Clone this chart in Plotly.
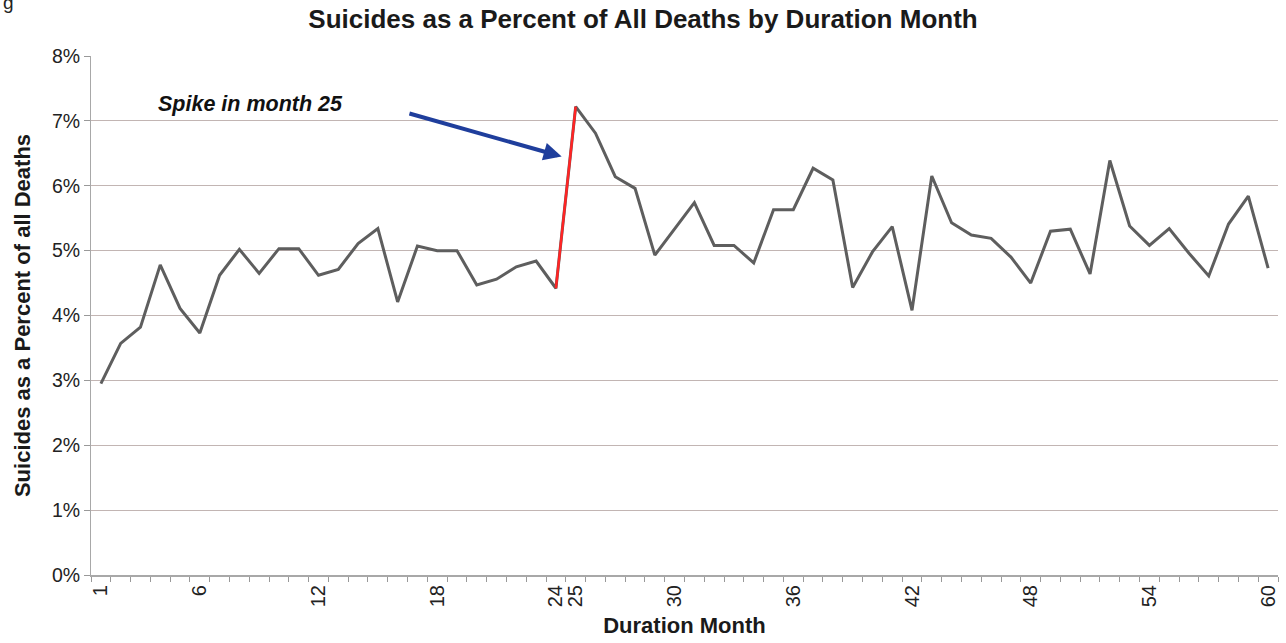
import plotly.graph_objects as go

months = list(range(1, 61))
pct = [2.95, 3.57, 3.82, 4.78, 4.11, 3.73, 4.62, 5.02, 4.65, 5.03,
       5.03, 4.62, 4.71, 5.11, 5.34, 4.21, 5.07, 5.00, 5.00, 4.47,
       4.56, 4.75, 4.84, 4.42, 7.22, 6.81, 6.14, 5.96, 4.93, 5.34,
       5.74, 5.08, 5.08, 4.81, 5.63, 5.63, 6.27, 6.09, 4.43, 4.98,
       5.37, 4.08, 6.15, 5.43, 5.24, 5.19, 4.90, 4.50, 5.30, 5.33,
       4.64, 6.39, 5.38, 5.08, 5.34, 4.96, 4.61, 5.41, 5.84, 4.73]
tick_months = [1, 6, 12, 18, 24, 25, 30, 36, 42, 48, 54, 60]
y_ticks = [0, 1, 2, 3, 4, 5, 6, 7, 8]

spike_x = [24, 25]
spike_y = [pct[23], pct[24]]

FONT = "Liberation Sans, Arial, sans-serif"
grid_c = "#c2b5b3"

fig = go.Figure()
fig.add_trace(go.Scatter(x=months, y=pct, mode="lines",
                         line=dict(color="#5e5e5e", width=3), showlegend=False))
fig.add_trace(go.Scatter(x=spike_x, y=spike_y, mode="lines",
                         line=dict(color="#ff2424", width=2.5), showlegend=False))

fig.update_layout(
    width=1286, height=643,
    margin=dict(l=91, r=8, t=56, b=68),
    paper_bgcolor="white", plot_bgcolor="white",
    font=dict(family=FONT, color="#222222"),
    title=dict(text="<b>Suicides as a Percent of All Deaths by Duration Month</b>",
               x=0.5, xref="container", xanchor="center",
               y=0.971, yref="container", yanchor="middle",
               font=dict(size=26, color="#1a1a1a", family=FONT)),
    xaxis=dict(range=[0.5, 60.5], tickvals=tick_months,
               ticktext=[str(t) for t in tick_months],
               tickangle=-90, tickfont=dict(size=20, color="#222"),
               ticks="", showgrid=False, zeroline=False,
               showline=True, linecolor="#a8a8a8", linewidth=2,
               minor=dict(tick0=0.5, dtick=1, ticks="outside", ticklen=5,
                          tickcolor="#999999", showgrid=False),
               title=dict(text="<b>Duration Month</b>", font=dict(size=22, color="#1a1a1a"),
                          standoff=11)),
    yaxis=dict(range=[0, 8], tickvals=y_ticks,
               ticktext=[f"{v}%" for v in y_ticks],
               tickfont=dict(size=19.5, color="#222"),
               ticks="outside", ticklen=6, tickcolor="#999999",
               showgrid=True, gridcolor=grid_c, gridwidth=1.3,
               zeroline=False, showline=True, linecolor="#a8a8a8", linewidth=1,
               title=dict(text="<b>Suicides as a Percent of all Deaths</b>",
                          font=dict(size=22, color="#1a1a1a"), standoff=15)),
    annotations=[
        dict(text="<b><i>Spike in month 25</i></b>", x=13.33, y=7.26, xref="x", yref="y",
             xanchor="right", yanchor="middle", showarrow=False,
             font=dict(size=21.5, color="#111111", family=FONT)),
        dict(x=24.29, y=6.45, ax=16.52, ay=7.12, xref="x", yref="y",
             axref="x", ayref="y", text="", showarrow=True,
             arrowhead=2, arrowsize=0.9, arrowwidth=4, arrowcolor="#1f3e9c"),
        dict(text="g", x=0.0, y=1.0, xref="paper", yref="paper", xshift=-90,
             yshift=66, xanchor="left", yanchor="top", showarrow=False,
             font=dict(size=19, color="#222")),
    ],
)
fig.write_html("out.html")
